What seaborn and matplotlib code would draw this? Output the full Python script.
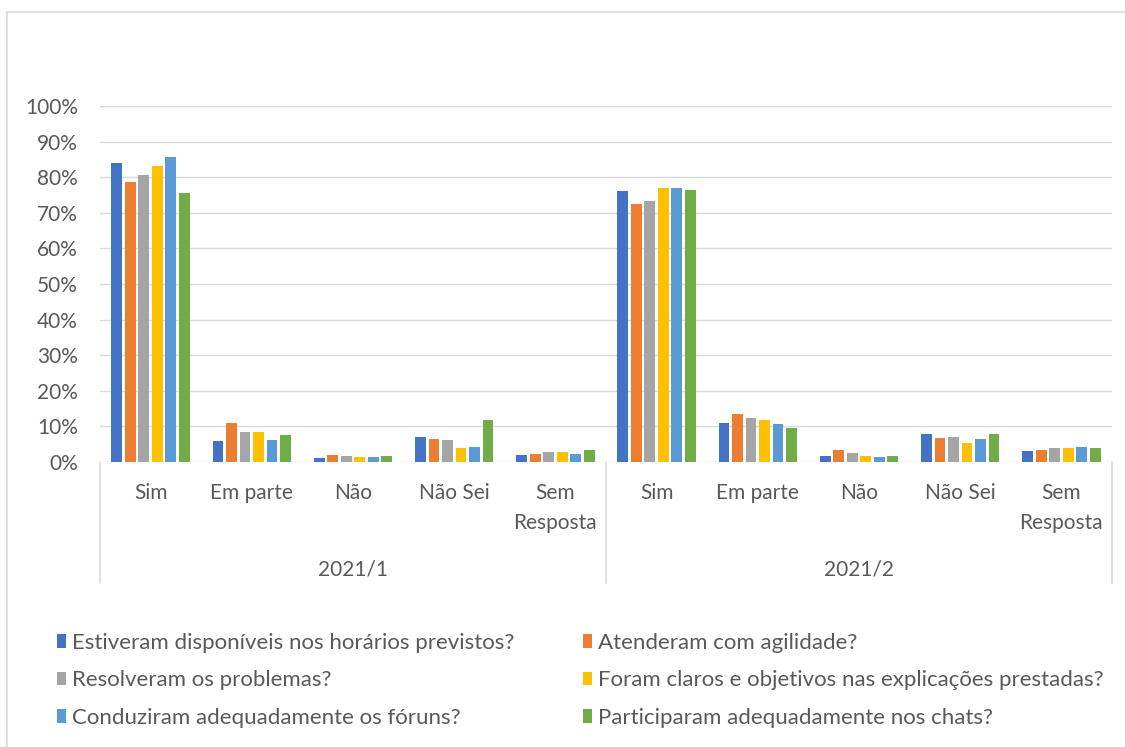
import matplotlib
matplotlib.use('Agg')
import matplotlib.pyplot as plt
import pandas as pd
import seaborn as sns
from matplotlib.patches import Patch, Rectangle

# Data (percent values)
anos = ['2021/1', '2021/2']
respostas = ['Sim', 'Em parte', 'Não', 'Não Sei', 'Sem\nResposta']
perguntas = ['Estiveram disponíveis nos horários previstos?',
             'Atenderam com agilidade?',
             'Resolveram os problemas?',
             'Foram claros e objetivos nas explicações prestadas?',
             'Conduziram adequadamente os fóruns?',
             'Participaram adequadamente nos chats?']
# order: 2021/1 (Sim, Em parte, Não, Não Sei, Sem Resposta), then 2021/2
estiveram = [83.9, 5.8, 1.0, 7.0, 2.0, 76.2, 10.9, 1.6, 7.8, 3.0]
atenderam = [78.6, 10.9, 2.0, 6.4, 2.2, 72.4, 13.4, 3.5, 6.8, 3.4]
resolveram = [80.6, 8.5, 1.6, 6.2, 2.9, 73.4, 12.5, 2.6, 7.1, 3.9]
foram = [83.1, 8.5, 1.3, 4.0, 2.7, 77.0, 11.7, 1.6, 5.2, 3.9]
conduziram = [85.8, 6.1, 1.3, 4.3, 2.2, 77.0, 10.6, 1.4, 6.4, 4.2]
participaram = [75.6, 7.7, 1.6, 11.9, 3.3, 76.4, 9.5, 1.8, 8.0, 3.9]
cores = ['#4472C4', '#ED7D31', '#A5A5A5', '#FFC000', '#5B9BD5', '#70AD47']

series = [estiveram, atenderam, resolveram, foram, conduziram, participaram]
cats = [f'{a}|{r}' for a in anos for r in respostas]
rows = []
for perg, vals in zip(perguntas, series):
    for c, v in zip(cats, vals):
        rows.append({'cat': c, 'pergunta': perg, 'valor': v})
df = pd.DataFrame(rows)

sns.set_style('white')
plt.rcParams['font.family'] = ['Lato', 'DejaVu Sans']
texto = '#595959'
grade = '#D9D9D9'
fs = 15

fig = plt.figure(figsize=(11.25, 7.47), dpi=100)
ax = fig.add_axes([100 / 1125, 1 - 462 / 747, 1012 / 1125, 356 / 747])

sns.barplot(data=df, x='cat', y='valor', hue='pergunta', order=cats,
            hue_order=perguntas, palette=cores, width=0.8, ax=ax,
            legend=False, linewidth=0, saturation=1)

# small gaps between bars
for p in ax.patches:
    w = p.get_width()
    p.set_x(p.get_x() + w * 0.1)
    p.set_width(w * 0.8)

ax.set_ylim(0, 100)
ax.set_xlim(-0.5, 9.5)
ax.set_yticks(range(0, 101, 10))
ax.set_yticklabels([f'{v}%' for v in range(0, 101, 10)])
ax.set_xticks(range(10))
ax.set_xticklabels(respostas * 2, linespacing=1.65)
ax.tick_params(axis='y', length=0, pad=16, labelsize=fs, labelcolor=texto)
ax.tick_params(axis='x', length=0, pad=15, labelsize=fs, labelcolor=texto)
ax.set_xlabel('')
ax.set_ylabel('')
for s in ax.spines.values():
    s.set_visible(False)
ax.yaxis.grid(True, color=grade, lw=1)
ax.set_axisbelow(True)

# group dividers and year labels
tr = ax.get_xaxis_transform()
for xv in [-0.5, 4.5, 9.5]:
    ax.plot([xv, xv], [0, -121 / 356], color=grade, lw=1.2, transform=tr, clip_on=False)
for i, ano in enumerate(anos):
    ax.text(2 + 5 * i, -107 / 356, ano, transform=tr, ha='center', va='center',
            fontsize=fs, color=texto)

# legend, filled row by row
handles = [Patch(facecolor=c, edgecolor='none') for c in cores]
ordem = [0, 2, 4, 1, 3, 5]
fig.legend([handles[i] for i in ordem], [perguntas[i] for i in ordem], ncol=2,
           loc='upper left', bbox_to_anchor=(57 / 1125, 1 - 633 / 747),
           frameon=False, fontsize=16, labelcolor=texto, handlelength=0.42,
           handleheight=0.55, handletextpad=0.25, columnspacing=3.1,
           labelspacing=0.78, borderaxespad=0, borderpad=0)

# chart border
fig.patches.append(Rectangle((7 / 1125, -0.1), 1.2, (747 - 12) / 747 + 0.1,
                             transform=fig.transFigure, fill=False,
                             edgecolor=grade, lw=1.2))

fig.savefig('out.png', dpi=100)
